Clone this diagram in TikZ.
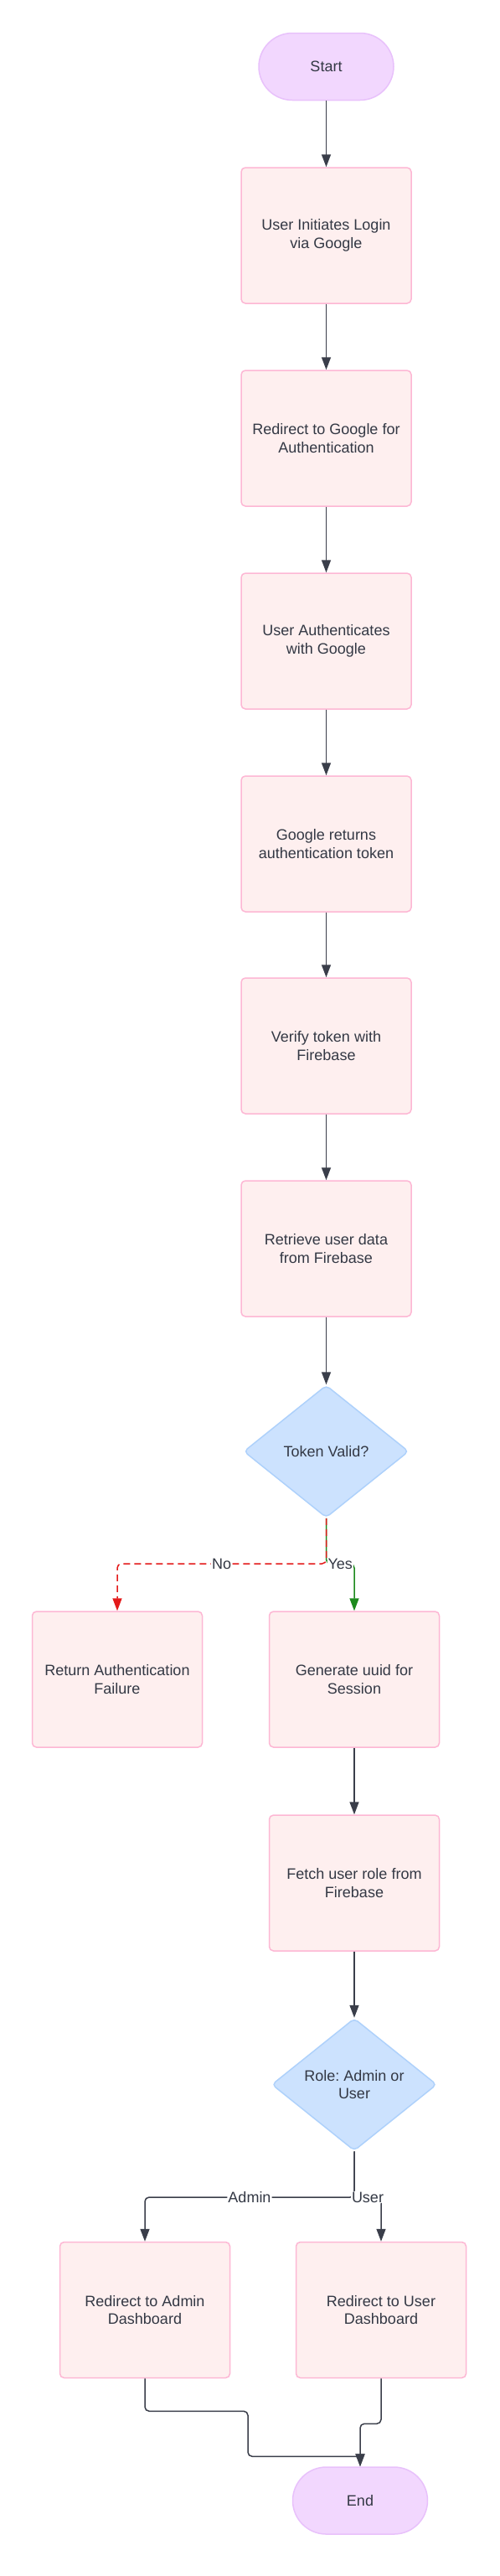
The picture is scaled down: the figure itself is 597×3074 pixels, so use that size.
\documentclass[tikz,border=0pt]{standalone}
\usepackage{fontspec}
\setmainfont{Liberation Sans}
\frenchspacing
\usetikzlibrary{shapes.geometric,arrows.meta}
\definecolor{txtc}{HTML}{333844}
\definecolor{linec}{HTML}{3A3E4A}
\definecolor{termfill}{HTML}{F2D7FE}
\definecolor{termline}{HTML}{E8C1FB}
\definecolor{boxfill}{HTML}{FEEFEF}
\definecolor{boxline}{HTML}{FDB7D4}
\definecolor{askfill}{HTML}{CCE2FE}
\definecolor{askline}{HTML}{AED1FB}
\definecolor{noc}{HTML}{E31A1A}
\definecolor{yesc}{HTML}{1D8A1D}
\tikzset{
  base/.style={font=\fontsize{18}{21.7}\selectfont, text=txtc, align=center, line width=1.5pt},
  term/.style={base, rectangle, rounded corners=40pt, fill=termfill, draw=termline, minimum width=161pt, minimum height=80pt},
  proc/.style={base, rectangle, rounded corners=5pt, fill=boxfill, draw=boxline, minimum width=203pt, minimum height=162pt},
  ask/.style={base, diamond, aspect=1.25, rounded corners=5pt, fill=askfill, draw=askline, minimum width=197pt, minimum height=158pt, inner sep=0pt},
  flow/.style={-{Triangle[length=15pt,width=11pt]}, line width=1.5pt, draw=linec, rounded corners=5pt},
  lbl/.style={fill=white, inner sep=1pt, font=\fontsize{18}{21.7}\selectfont, text=txtc}
}
\begin{document}
\begin{tikzpicture}[x=1pt,y=-1pt]
\useasboundingbox (0,0) rectangle (597,3074);
\node[term] (start) at (389.5,79.5) {Start};
\node[proc] (login) at (389.5,281) {User Initiates Login\\via Google};
\node[proc] (redir) at (389.5,523) {Redirect to Google for\\Authentication};
\node[proc] (auth) at (389.5,765) {User Authenticates\\with Google};
\node[proc] (token) at (389.5,1007) {Google returns\\authentication token};
\node[proc] (verify) at (389.5,1248) {Verify token with\\Firebase};
\node[proc] (fetch) at (389.5,1490) {Retrieve user data\\from Firebase};
\node[ask] (valid) at (389.5,1732) {Token Valid?};
\node[proc] (fail) at (140,2004) {Return Authentication\\Failure};
\node[proc] (uuid) at (423,2004) {Generate uuid for\\Session};
\node[proc] (role) at (423,2247) {Fetch user role from\\Firebase};
\node[ask] (which) at (423,2487.5) {Role: Admin or\\User};
\node[proc] (admin) at (173,2756.5) {Redirect to Admin\\Dashboard};
\node[proc] (user) at (455,2756.5) {Redirect to User\\Dashboard};
\node[term] (stop) at (430,2984) {End};
\coordinate (split) at (389.5,1866);
\coordinate (fork) at (423,2622);
\draw[flow] (start) -- (login);
\draw[flow] (login) -- (redir);
\draw[flow] (redir) -- (auth);
\draw[flow] (auth) -- (token);
\draw[flow] (token) -- (verify);
\draw[flow] (verify) -- (fetch);
\draw[flow] (fetch) -- (valid);
\draw[flow, draw=yesc, -{Triangle[length=15pt,width=11pt,fill=yesc]}] (valid.south) -- (split) -| node[lbl, pos=0.25] {Yes} (uuid.north);
\draw[flow, draw=noc, dash pattern=on 8pt off 5pt, -{Triangle[length=15pt,width=11pt,fill=noc]}] (valid.south) -- (split) -| node[lbl, pos=0.25] {No} (fail.north);
\draw[flow] (uuid) -- (role);
\draw[flow] (role) -- (which);
\draw[flow] (which.south) -- (fork) -| node[lbl, pos=0.25] {Admin} (admin.north);
\draw[flow] (which.south) -- (fork) -| node[lbl, pos=0.25] {User} (user.north);
\draw[flow] (admin.south) -- ++(0,39) -| ++(123,54) -| (stop.north);
\draw[flow] (user.south) -- ++(0,54) -| (stop.north);
\end{tikzpicture}
\end{document}
